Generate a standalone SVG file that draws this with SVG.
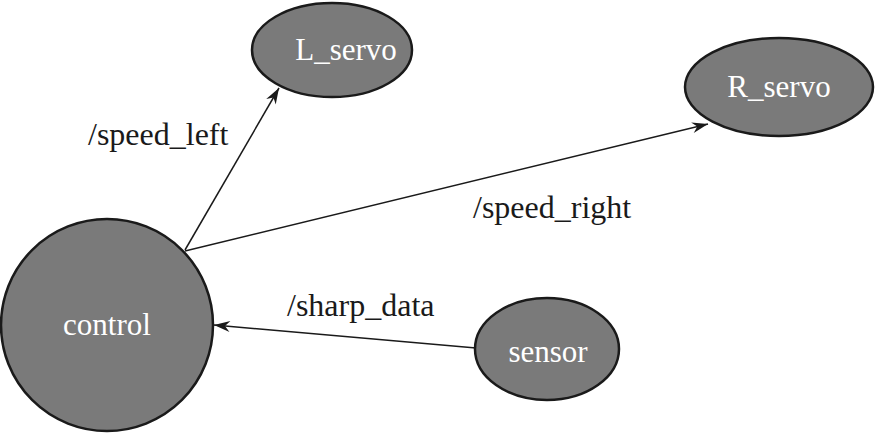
<svg xmlns="http://www.w3.org/2000/svg" width="876" height="434" viewBox="0 0 876 434">
<style>
.node{fill:#7a7a7a;stroke:#1a1a1a;stroke-width:2.5}
.nt{font-family:"Liberation Serif","Times New Roman",serif;font-size:31px;fill:#ffffff;text-anchor:middle}
.lt{font-family:"Liberation Serif","Times New Roman",serif;font-size:32px;fill:#1a1a1a}
.edge{stroke:#1a1a1a;stroke-width:1.5;fill:none;marker-end:url(#ah)}
</style>
<defs>
<marker id="ah" markerUnits="userSpaceOnUse" markerWidth="20" markerHeight="14" viewBox="-17 -7 18 14" refX="0" refY="0" orient="auto">
<path d="M0,0 L-16,-5.5 L-11,0 L-16,5.5 Z" fill="#1a1a1a"/>
</marker>
</defs>
<rect width="876" height="434" fill="#ffffff"/>
<g id="connectors">
<line class="edge" x1="185" y1="250" x2="279" y2="88"/>
<line class="edge" x1="185" y1="251" x2="708" y2="124"/>
<line class="edge" x1="476" y1="348" x2="214" y2="325"/>
<text class="lt" x="88" y="145">/speed_left</text>
<text class="lt" x="473" y="218">/speed_right</text>
<text class="lt" x="287" y="316">/sharp_data</text>
</g>
<g id="L_servo">
<ellipse class="node" cx="332" cy="50" rx="80" ry="47"/>
<text class="nt" x="346" y="60">L_servo</text>
</g>
<g id="R_servo">
<ellipse class="node" cx="779" cy="87" rx="94" ry="49"/>
<text class="nt" x="779" y="97">R_servo</text>
</g>
<g id="control">
<circle class="node" cx="107" cy="325" r="106"/>
<text class="nt" x="107" y="335">control</text>
</g>
<g id="sensor">
<ellipse class="node" cx="547" cy="349" rx="72" ry="51"/>
<text class="nt" x="548" y="362">sensor</text>
</g>
</svg>
